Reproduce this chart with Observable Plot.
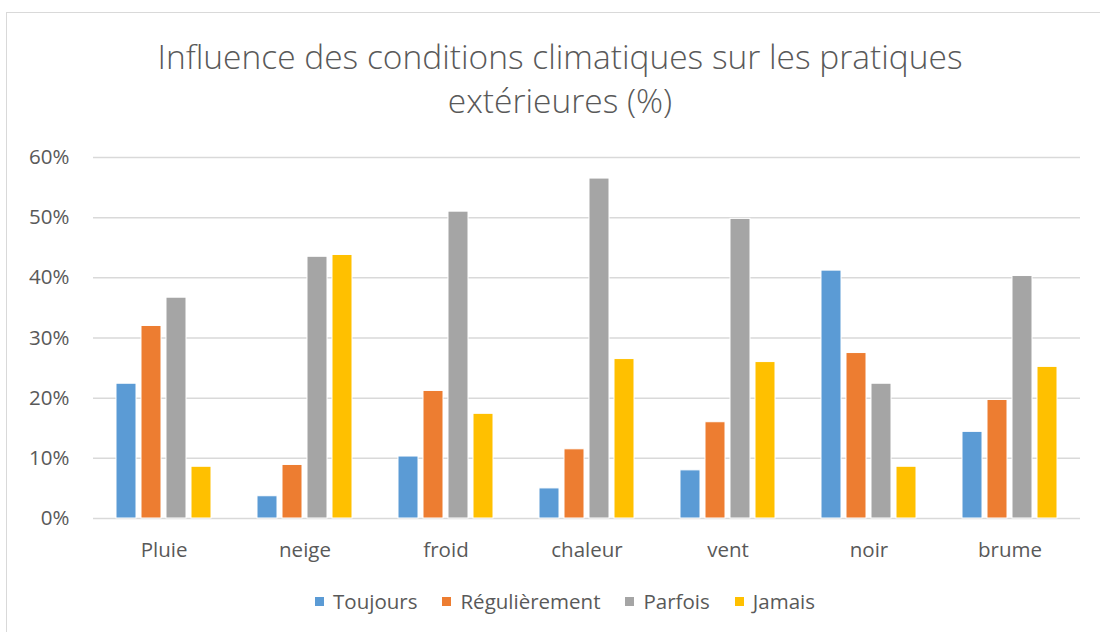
<!DOCTYPE html>
<html>
<head>
<meta charset="utf-8">
<script src="https://cdn.jsdelivr.net/npm/d3@7"></script>
<script src="https://cdn.jsdelivr.net/npm/@observablehq/plot@0.6"></script>
<style>
  html, body { margin: 0; padding: 0; background: #fff; }
  #wrap { position: relative; width: 1100px; height: 632px; overflow: hidden; font-family: "Open Sans", sans-serif; }
  #frame { position: absolute; left: 6px; top: 12px; width: 1200px; height: 700px; border: 1px solid #d9d9d9; box-sizing: border-box; }
  #title { position: absolute; left: 0; width: 1120px; top: 34px; text-align: center; font-size: 33.5px; font-weight: 300; line-height: 44px; color: #595959; }
  #chart { position: absolute; left: 0; top: 130px; }
  #legend { position: absolute; top: 587px; left: 0; width: 1130px; display: flex; justify-content: center; gap: 25px; font-size: 20.5px; color: #595959; }
  .item { display: flex; align-items: center; gap: 9px; }
  .sw { width: 9px; height: 9px; display: inline-block; }
</style>
</head>
<body>
<div id="wrap">
  <div id="frame"></div>
  <div id="title">Influence des conditions climatiques sur les pratiques<br>extérieures (%)</div>
  <div id="chart"></div>
  <div id="legend"></div>
</div>
<script>
const categories = ["Pluie", "neige", "froid", "chaleur", "vent", "noir", "brume"];
const seriesNames = ["Toujours", "Régulièrement", "Parfois", "Jamais"];
const seriesColors = ["#5B9BD5", "#ED7D31", "#A5A5A5", "#FFC000"];
const toujours = [22.4, 3.7, 10.3, 5.0, 8.0, 41.2, 14.4];
const regulierement = [32.0, 8.9, 21.2, 11.5, 16.0, 27.5, 19.7];
const parfois = [36.7, 43.5, 51.0, 56.5, 49.8, 22.4, 40.3];
const jamais = [8.6, 43.8, 17.4, 26.5, 26.0, 8.6, 25.2];
const yTicks = [0, 10, 20, 30, 40, 50, 60];

const seriesValues = [toujours, regulierement, parfois, jamais];
const data = [];
categories.forEach((c, i) => {
  seriesNames.forEach((s, j) => data.push({cat: c, series: s, value: seriesValues[j][i]}));
});

const chart = Plot.plot({
  width: 1100,
  height: 450,
  marginLeft: 90,
  marginRight: 17,
  marginTop: 27,
  marginBottom: 62,
  style: {fontFamily: "'Open Sans', sans-serif", fontSize: "20.5px", color: "#595959", background: "transparent"},
  fx: {domain: categories, padding: 0, label: null, axis: "bottom", tickSize: 0, tickPadding: 24},
  x: {domain: seriesNames, axis: null, paddingInner: 0.2, paddingOuter: 0.88},
  y: {domain: [0, 60], ticks: yTicks, tickFormat: d => d + "%", label: null, tickSize: 0, tickPadding: 24},
  color: {domain: seriesNames, range: seriesColors},
  marks: [
    Plot.ruleY(yTicks, {stroke: "#d9d9d9", strokeWidth: 1.5}),
    Plot.barY(data, {fx: "cat", x: "series", y: "value", fill: "series", stroke: "white", strokeWidth: 1})
  ]
});
document.getElementById("chart").appendChild(chart);

const legend = document.getElementById("legend");
seriesNames.forEach((s, i) => {
  const it = document.createElement("div");
  it.className = "item";
  const sw = document.createElement("span");
  sw.className = "sw";
  sw.style.background = seriesColors[i];
  const t = document.createElement("span");
  t.textContent = s;
  it.appendChild(sw);
  it.appendChild(t);
  legend.appendChild(it);
});
</script>
</body>
</html>
